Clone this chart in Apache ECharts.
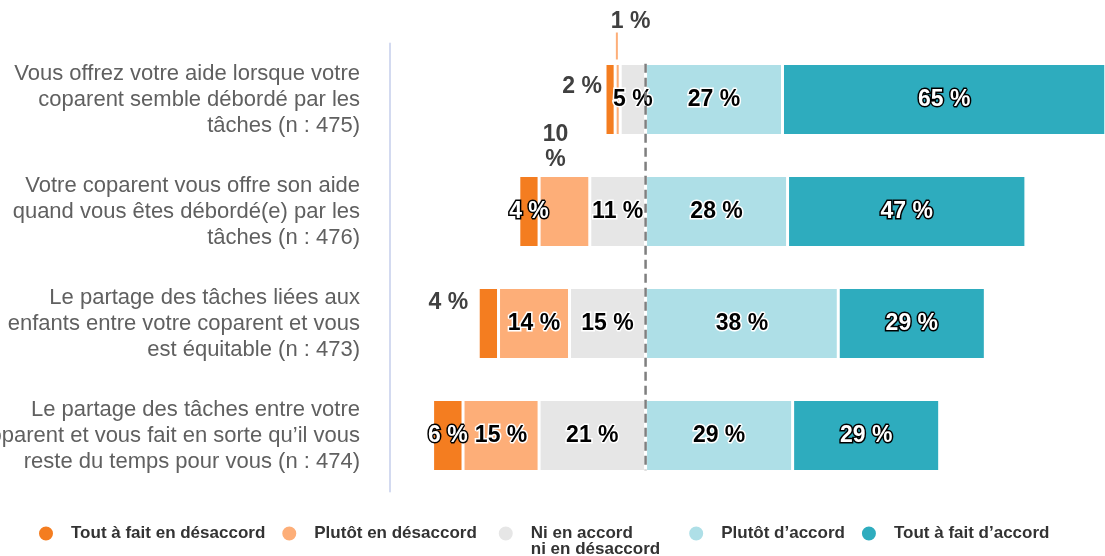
<!DOCTYPE html>
<html lang="fr">
<head>
<meta charset="UTF-8">
<title>Partage des tâches avec le coparent</title>
<style>
    html, body { margin: 0; padding: 0; background: #fff; }
    #chart { width: 1105px; height: 556px; }
</style>
</head>
<body>
<div id="chart"></div>
<script src="https://cdn.jsdelivr.net/npm/echarts@6/dist/echarts.min.js"></script>
<script>
    // questions (de haut en bas)
    var categories = [
        'Vous offrez votre aide lorsque votre\ncoparent semble débordé par les\ntâches (n : 475)',
        'Votre coparent vous offre son aide\nquand vous êtes débordé(e) par les\ntâches (n : 476)',
        'Le partage des tâches liées aux\nenfants entre votre coparent et vous\nest équitable (n : 473)',
        'Le partage des tâches entre votre\ncoparent et vous fait en sorte qu’il vous\nreste du temps pour vous (n : 474)'
    ];
    var niveaux = ['Tout à fait en désaccord', 'Plutôt en désaccord', 'Ni en accord\nni en désaccord', 'Plutôt d’accord', 'Tout à fait d’accord'];

    // pourcentages par niveau
    var toutDesaccord = [2, 4, 4, 6];
    var plutotDesaccord = [1, 10, 14, 15];
    var neutre = [5, 11, 15, 21];
    var plutotAccord = [27, 28, 38, 29];
    var toutAccord = [65, 47, 29, 29];

    var couleurs = ['#F47D20', '#FDAE78', '#E6E6E6', '#AEDFE7', '#2EACBE'];
    var police = '"Liberation Sans", Arial, sans-serif';

    var labelClair = { color: '#000', textBorderColor: '#fff', textBorderWidth: 3 };
    var labelFonce = { color: '#fff', textBorderColor: '#000', textBorderWidth: 3 };
    var labelDehors = { color: '#404040', textBorderWidth: 0 };

    // étiquettes placées hors de la barre : "niveau-ligne"
    var speciaux = {
        '0-0': { position: 'left', distance: 3, offset: [0, -13] },
        '1-0': { position: 'top', distance: 4, offset: [13, 0], trait: true },
        '1-1': { position: 'top', distance: 4, offset: [-9, 0], coupe: true },
        '0-2': { position: 'left', distance: 10, offset: [0, -21] }
    };
    var richDehors = {
        t: { fontFamily: police, fontWeight: 'bold', fontSize: 23, lineHeight: 22, color: '#404040' },
        p: { fontFamily: police, fontWeight: 'bold', fontSize: 23, lineHeight: 26, color: '#404040', verticalAlign: 'bottom' },
        s: { width: 5, height: 27, align: 'left' },
        l: { width: 2, height: 27, backgroundColor: couleurs[1], align: 'left' }
    };

    function serie(idx, valeurs, signe, fonce) {
        var data = valeurs.map(function (v, row) {
            var item = { value: signe * v };
            var sp = speciaux[idx + '-' + row];
            if (sp) {
                item.label = Object.assign({ position: sp.position, distance: sp.distance, offset: sp.offset }, labelDehors);
                if (sp.trait) {
                    item.label.formatter = function (p) { return '{t|' + Math.abs(p.value) + ' %}\n{s|}{l|}'; };
                    item.label.rich = richDehors;
                } else if (sp.coupe) {
                    item.label.formatter = function (p) { return '{t|' + Math.abs(p.value) + '}\n{p|%}'; };
                    item.label.rich = richDehors;
                }
            }
            return item;
        });
        return {
            name: niveaux[idx],
            type: 'bar',
            stack: 'total',
            barWidth: 72,
            itemStyle: { color: couleurs[idx], borderColor: '#fff', borderWidth: 1.5 },
            label: Object.assign({
                show: true,
                position: 'inside',
                fontFamily: police,
                fontWeight: 'bold',
                fontSize: 23,
                formatter: function (p) { return Math.abs(p.value) + ' %'; }
            }, fonce ? labelFonce : labelClair),
            data: data
        };
    }

    var legendeData = niveaux.map(function (n, i) {
        return { name: n, textStyle: { padding: [0, [0, 5, 12, 0, 0][i], 0, 12] } };
    });

    var myChart = echarts.init(document.getElementById('chart'));
    var option = {
        animation: false,
        textStyle: { fontFamily: police },
        grid: { left: 390, right: 0, top: 43.5, height: 448, containLabel: false, outerBoundsMode: 'none' },
        legend: {
            data: legendeData,
            left: 32,
            top: 504,
            icon: 'circle',
            itemWidth: 16,
            itemHeight: 16,
            itemGap: 15,
            // la première ligne du libellé sur deux lignes reste alignée sur la pastille
            formatter: function (name) { return name.indexOf('\n') >= 0 ? '\n' + name : name; },
            textStyle: { fontFamily: police, fontWeight: 'bold', fontSize: 17, lineHeight: 16, color: '#333' }
        },
        xAxis: {
            type: 'value',
            min: -50.4,
            max: 90.6,
            show: false
        },
        yAxis: [{
            type: 'category',
            inverse: true,
            data: categories,
            axisLine: { onZero: false, lineStyle: { color: '#D3DAF0', width: 2 } },
            axisTick: { show: false },
            axisLabel: { color: '#606060', fontSize: 22, lineHeight: 26, margin: 30, fontFamily: police }
        }, {
            type: 'value',
            show: false,
            inverse: true,
            min: 0,
            max: 4
        }],
        series: [
            serie(2, neutre, -1, false),
            serie(1, plutotDesaccord, -1, false),
            serie(0, toutDesaccord, -1, true),
            serie(3, plutotAccord, 1, false),
            serie(4, toutAccord, 1, true),
            {
                // ligne pointillée au point neutre
                type: 'line',
                yAxisIndex: 1,
                data: [[0, 0.18], [0, 3.81]],
                symbol: 'none',
                silent: true,
                z: 5,
                lineStyle: { color: '#7F7F7F', width: 2.5, type: [9, 5] }
            }
        ]
    };
    myChart.setOption(option);
</script>
</body>
</html>
